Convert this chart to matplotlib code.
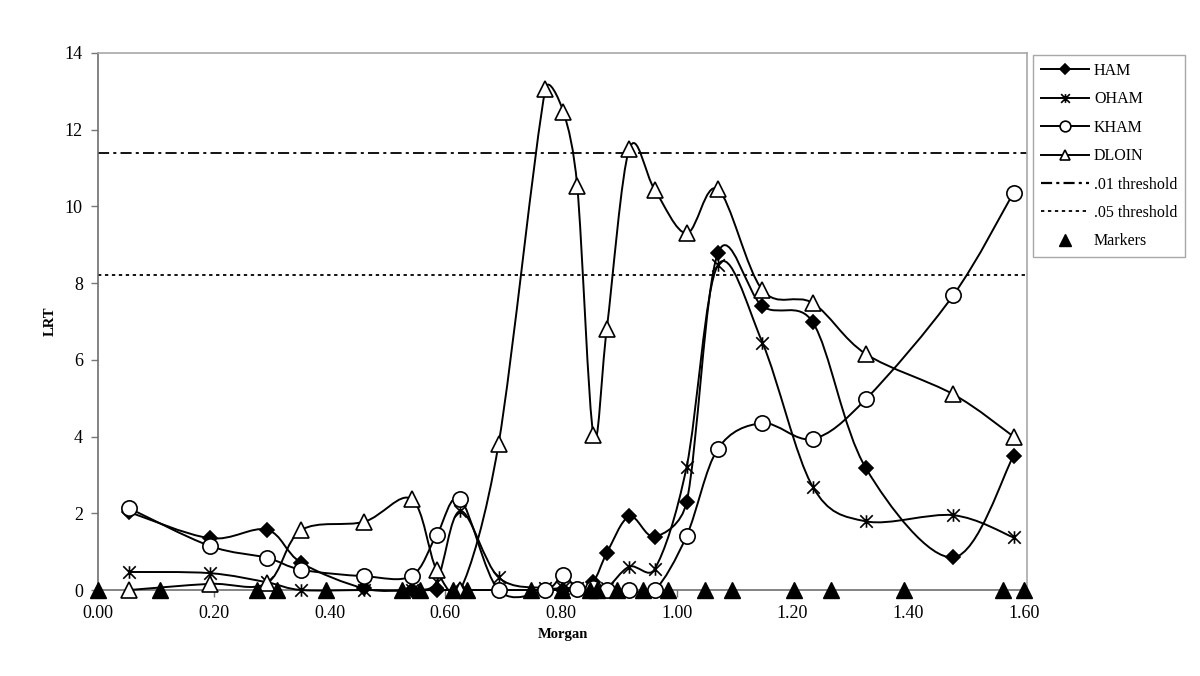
from __future__ import annotations

import matplotlib

matplotlib.use("Agg")
import matplotlib.pyplot as plt
import numpy as np
from matplotlib.lines import Line2D
from matplotlib.patches import PathPatch
from matplotlib.path import Path

# map positions (Morgan) shared by the four test statistics
positions = [0.054, 0.193, 0.292, 0.351, 0.460, 0.542, 0.585, 0.626, 0.692, 0.773,
             0.804, 0.828, 0.856, 0.879, 0.918, 0.962, 1.017, 1.071, 1.148, 1.235,
             1.327, 1.478, 1.582]

ham = [2.03, 1.35, 1.57, 0.71, 0.04, 0.0, 0.0, 0.0, 0.0, 0.0, 0.0, 0.0,
       0.22, 0.96, 1.92, 1.39, 2.29, 8.78, 7.40, 6.98, 3.17, 0.85, 3.50]
oham = [0.47, 0.44, 0.20, 0.0, 0.0, 0.0, 0.22, 2.06, 0.33, 0.05, 0.05, 0.05,
        0.05, 0.05, 0.61, 0.55, 3.21, 8.47, 6.45, 2.69, 1.79, 1.95, 1.37]
kham = [2.13, 1.15, 0.84, 0.53, 0.36, 0.37, 1.43, 2.36, 0.0, 0.0, 0.38, 0.02,
        0.05, 0.0, 0.0, 0.0, 1.41, 3.68, 4.35, 3.94, 4.98, 7.69, 10.36]
dloin = [0.0, 0.16, 0.18, 1.56, 1.78, 2.37, 0.52, 0.0, 3.80, 13.06, 12.47, 10.53,
         4.04, 6.80, 11.50, 10.43, 9.30, 10.45, 7.82, 7.48, 6.15, 5.10, 4.00]

marker_positions = [0.0, 0.107, 0.275, 0.309, 0.394, 0.525, 0.556, 0.613, 0.637,
                    0.748, 0.802, 0.850, 0.862, 0.897, 0.942, 0.985, 1.049, 1.095,
                    1.203, 1.267, 1.393, 1.564, 1.600]

threshold_01 = 11.4
threshold_05 = 8.2

x_ticks = [0.0, 0.2, 0.4, 0.6, 0.8, 1.0, 1.2, 1.4, 1.6]
y_ticks = [0, 2, 4, 6, 8, 10, 12, 14]

# Excel style "star": vertical bar plus an X
STAR = Path(
    [(0, -1), (0, 1), (-1, -1), (1, 1), (-1, 1), (1, -1)],
    [Path.MOVETO, Path.LINETO, Path.MOVETO, Path.LINETO, Path.MOVETO, Path.LINETO],
)


def smooth_path(ax, xs, ys) -> Path:
    """Excel-like smoothed line: Bezier segments, tangents capped at half a segment.

    Control points are worked out in screen space, then mapped back to data.
    """
    to_px = ax.transData
    pts = to_px.transform(np.column_stack([xs, ys]).astype(float))
    n = len(pts)
    verts = [pts[0]]
    codes = [Path.MOVETO]
    for i in range(n - 1):
        p0 = pts[i - 1] if i > 0 else pts[i]
        p1 = pts[i]
        p2 = pts[i + 1]
        p3 = pts[i + 2] if i + 2 < n else pts[i + 1]
        d12 = np.hypot(*(p2 - p1))
        d02 = np.hypot(*(p2 - p0))
        d13 = np.hypot(*(p3 - p1))
        f1 = 1 / 6 if d02 / 6 <= d12 / 2 or d02 == 0 else d12 / (2 * d02)
        f2 = 1 / 6 if d13 / 6 <= d12 / 2 or d13 == 0 else d12 / (2 * d13)
        c1 = p1 + (p2 - p0) * f1
        c2 = p2 - (p3 - p1) * f2
        verts.extend([c1, c2, p2])
        codes.extend([Path.CURVE4] * 3)
    data_verts = to_px.inverted().transform(np.array(verts))
    return Path(data_verts, codes)


def main() -> int:
    plt.rcParams["font.family"] = ["Liberation Serif", "DejaVu Serif"]
    plt.rcParams["lines.scale_dashes"] = False

    fig = plt.figure(figsize=(12, 6.76), dpi=100)
    ax = fig.add_axes([0.0817, 0.1272, 0.7742, 0.7944])
    ax.set_xlim(0, 1.6053)
    ax.set_ylim(0, 14)

    line_w = 1.4
    series = [
        ("HAM", ham, dict(marker="D", markersize=7, markerfacecolor="black")),
        ("OHAM", oham, dict(marker=STAR, markersize=9, markerfacecolor="none")),
        ("KHAM", kham, dict(marker="o", markersize=11, markerfacecolor="white")),
        ("DLOIN", dloin, dict(marker="^", markersize=11, markerfacecolor="white")),
    ]

    handles = []
    for label, values, style in series:
        patch = PathPatch(smooth_path(ax, positions, values), facecolor="none",
                          edgecolor="black", linewidth=line_w, clip_on=False, zorder=3)
        ax.add_patch(patch)
        ax.plot(positions, values, linestyle="none", color="black",
                markeredgecolor="black", markeredgewidth=1.2, clip_on=False,
                zorder=4, **style)
        leg_style = dict(style)
        leg_style["markersize"] = style["markersize"] * 0.7
        handles.append(Line2D([], [], color="black", linewidth=line_w,
                              markeredgecolor="black", markeredgewidth=1.2,
                              label=label, **leg_style))

    dash_01 = (0, (8, 3, 2.2, 3))
    dash_05 = (0, (2.4, 2.6))
    ax.axhline(threshold_01, color="black", linewidth=1.3, linestyle=dash_01, zorder=2)
    ax.axhline(threshold_05, color="black", linewidth=1.3, linestyle=dash_05, zorder=2)
    handles.append(Line2D([], [], color="black", linewidth=1.6, linestyle=dash_01,
                          label=".01 threshold"))
    handles.append(Line2D([], [], color="black", linewidth=1.3, linestyle=dash_05,
                          label=".05 threshold"))

    ax.plot(marker_positions, np.zeros(len(marker_positions)), linestyle="none",
            marker="^", markersize=11, color="black", clip_on=False, zorder=5)
    handles.append(Line2D([], [], linestyle="none", marker="^", markersize=9,
                          color="black", label="Markers"))

    ax.set_xticks(x_ticks)
    ax.set_xticklabels([f"{v:.2f}" for v in x_ticks])
    ax.set_yticks(y_ticks)
    ax.tick_params(labelsize=13, direction="out", length=5, width=1,
                   color="#777777", pad=6)
    ax.set_xlabel("Morgan", fontsize=10.5, fontweight="bold", labelpad=4)
    ax.set_ylabel("LRT", fontsize=10.5, fontweight="bold", labelpad=6)

    for side in ("left", "bottom"):
        ax.spines[side].set_color("#6e6e6e")
        ax.spines[side].set_linewidth(1.2)
    for side in ("top", "right"):
        ax.spines[side].set_color("#a8a8a8")
        ax.spines[side].set_linewidth(1.2)

    leg = fig.legend(handles=handles, loc="upper left",
                     bbox_to_anchor=(0.861, 0.919), fontsize=11.5,
                     handlelength=3.0, handletextpad=0.3, labelspacing=0.78,
                     borderpad=0.5, borderaxespad=0, fancybox=False,
                     framealpha=1, edgecolor="#a8a8a8")
    leg.get_frame().set_linewidth(1.0)

    fig.savefig("out.png", dpi=100)
    return 0


if __name__ == "__main__":
    raise SystemExit(main())
